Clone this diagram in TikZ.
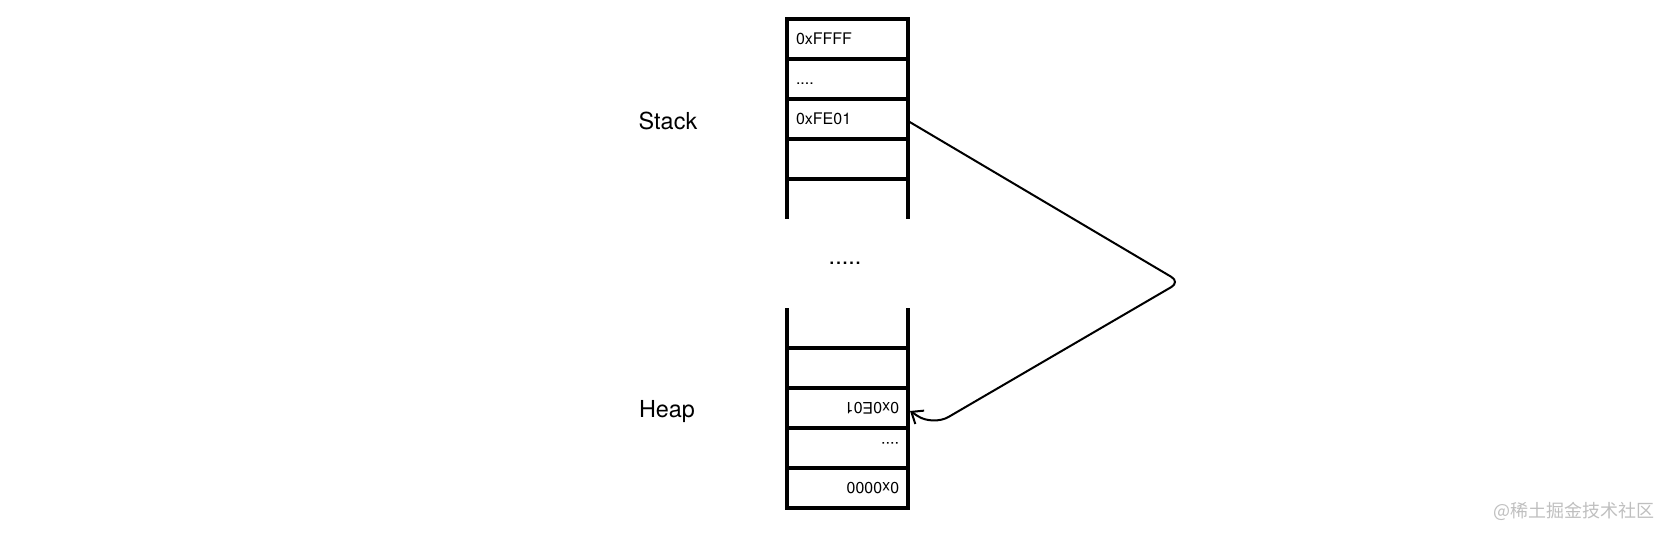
\documentclass[tikz,border=0pt]{standalone}
\usepackage{fontspec}
\usepackage{graphicx}
\setmainfont{TeX Gyre Heros}
\newfontfamily\cjkfont{Noto Sans CJK SC}
\usetikzlibrary{arrows.meta, positioning}
\tikzset{> = { Straight Barb[length = 5pt, width = 8pt] }}

\begin{document}
\begin{tikzpicture}[x = 0.5pt, y = 0.5pt, cell/.style = { draw, line width = 2pt, minimum width = 60.5pt, minimum height = 20pt, inner xsep = 4.5pt, inner ysep = 0pt, outer sep = 0pt, text width = 51.5pt, font = \fontsize{8}{9.5}\selectfont }, side/.style = { line width = 2pt }, conn/.style = { ->, line width = 1pt }, tag/.style = { font = \fontsize{11.7}{14}\selectfont }]
				\useasboundingbox (0,0) rectangle (1680,536);

				\node [cell, align = left] (sFFFF) at (847.5,497) {0xFFFF};
				\node [cell, align = left, below = 0pt of sFFFF] (sDots) {\vphantom{0}....};
				\node [cell, align = left, below = 0pt of sDots] (sFE01) {0xFE01};
				\node [cell, align = left, below = 0pt of sFE01] (sFree) {};

				\node [cell, align = right] (h0000) at (847.5,48) {\rotatebox{180}{0x0000}};
				\node [cell, align = right, above = 0pt of h0000] (hDots) {\rotatebox{180}{\vphantom{0}....}};
				\node [cell, align = right, above = 0pt of hDots] (h0E01) {\rotatebox{180}{0x0E01}};
				\node [cell, align = right, above = 0pt of h0E01] (hFree) {};

				\node [tag] (stack) at (668,415) {Stack};
				\node [tag] (heap) at (667,124.5) {Heap};
				\node [tag] (gap) at (845,273) {.....};

				\draw [side] (sFree.south west) -- ++(0,-40);
				\draw [side] (sFree.south east) -- ++(0,-40);
				\draw [side] (hFree.north west) -- ++(0,40);
				\draw [side] (hFree.north east) -- ++(0,40);

				\coordinate (turn) at (1180,254);
				\coordinate (bend) at (933,110);
				\draw [conn, rounded corners = 5pt] ([yshift = -1pt]sFE01.east) -- (turn) [rounded corners = 9pt] -- (bend) -- ([yshift = -1.5pt, xshift = 1pt]h0E01.east);

				\node [anchor = east, text = black!25, font = \cjkfont\fontsize{9}{11}\selectfont] (mark) at (1662,25) {@稀土掘金技术社区};
			\end{tikzpicture}
\end{document}
